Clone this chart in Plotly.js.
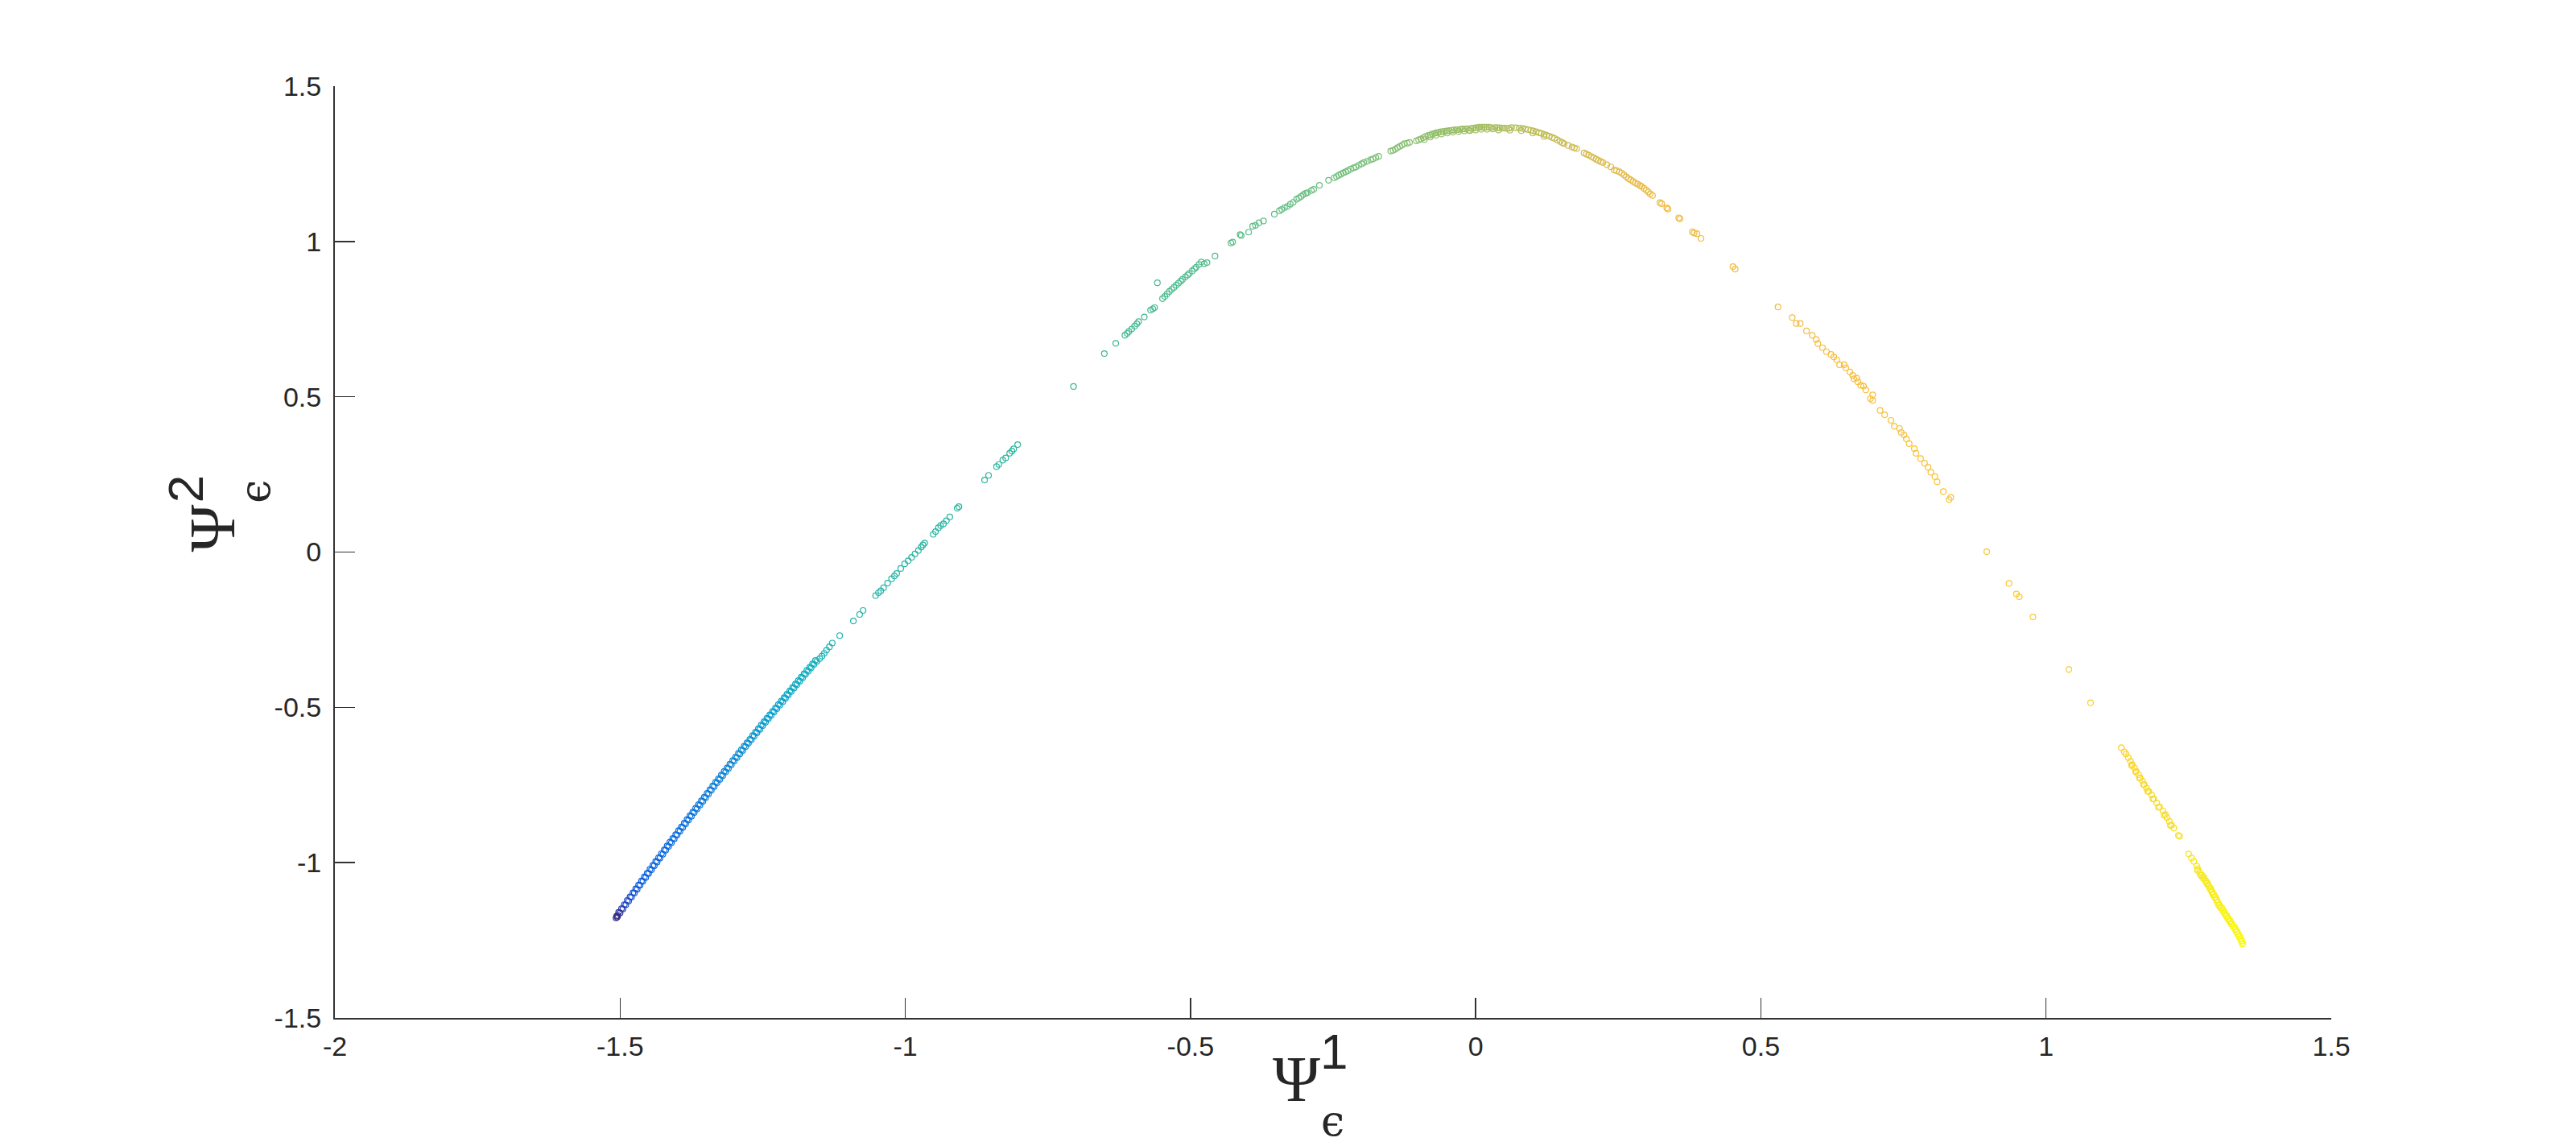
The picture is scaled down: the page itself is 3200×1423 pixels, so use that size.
<!DOCTYPE html>
<html>
<head>
<meta charset="utf-8">
<script src="https://cdn.plot.ly/plotly-3.0.1.min.js"></script>
<style>
  html, body { margin: 0; padding: 0; background: #fff; }
</style>
</head>
<body>
<div id="plot"></div>
<script>
// points, [psi1, psi2], in order along the curve
let leftBand = [
  [-1.507,-1.178],[-1.506,-1.172],[-1.504,-1.170],
  [-1.505,-1.175],[-1.500,-1.162],[-1.495,-1.149],[-1.490,-1.136],[-1.485,-1.124],[-1.480,-1.111],[-1.475,-1.098],[-1.470,-1.086],[-1.465,-1.073],[-1.460,-1.060],
  [-1.455,-1.048],[-1.450,-1.035],[-1.445,-1.023],[-1.440,-1.010],[-1.435,-0.998],[-1.430,-0.985],[-1.425,-0.973],[-1.420,-0.960],[-1.415,-0.948],[-1.410,-0.936],
  [-1.405,-0.924],[-1.400,-0.911],[-1.395,-0.899],[-1.390,-0.887],[-1.385,-0.875],[-1.380,-0.863],[-1.375,-0.851],[-1.370,-0.839],[-1.365,-0.827],[-1.360,-0.815],
  [-1.355,-0.803],[-1.350,-0.791],[-1.345,-0.779],[-1.340,-0.767],[-1.335,-0.755],[-1.330,-0.743],[-1.325,-0.732],[-1.320,-0.720],[-1.315,-0.708],[-1.310,-0.697],
  [-1.305,-0.685],[-1.300,-0.673],[-1.295,-0.662],[-1.290,-0.650],[-1.285,-0.639],[-1.280,-0.627],[-1.275,-0.616],[-1.270,-0.605],[-1.265,-0.593],[-1.260,-0.582],
  [-1.255,-0.571],[-1.250,-0.559],[-1.245,-0.548],[-1.240,-0.537],[-1.235,-0.526],[-1.230,-0.515],[-1.225,-0.504],[-1.220,-0.493],[-1.215,-0.482],[-1.210,-0.471],
  [-1.205,-0.460],[-1.200,-0.449],[-1.195,-0.438],[-1.190,-0.427],[-1.185,-0.416],[-1.180,-0.405],[-1.175,-0.394],[-1.170,-0.384],[-1.165,-0.373],[-1.160,-0.362],
  [-1.155,-0.352]
];
// upper edge of the same dense band
let leftBandEdge = [
  [-1.5025,-1.160],[-1.4975,-1.148],[-1.4925,-1.135],[-1.4875,-1.122],[-1.4825,-1.110],[-1.4775,-1.097],[-1.4725,-1.084],[-1.4675,-1.072],[-1.4625,-1.059],[-1.4575,-1.046],
  [-1.4525,-1.034],[-1.4475,-1.021],[-1.4425,-1.009],[-1.4375,-0.996],[-1.4325,-0.984],[-1.4275,-0.971],[-1.4225,-0.959],[-1.4175,-0.946],[-1.4125,-0.934],[-1.4075,-0.922],
  [-1.4025,-0.910],[-1.3975,-0.897],[-1.3925,-0.885],[-1.3875,-0.873],[-1.3825,-0.861],[-1.3775,-0.849],[-1.3725,-0.837],[-1.3675,-0.825],[-1.3625,-0.813],[-1.3575,-0.801],
  [-1.3525,-0.789],[-1.3475,-0.777],[-1.3425,-0.765],[-1.3375,-0.753],[-1.3325,-0.741],[-1.3275,-0.730],[-1.3225,-0.718],[-1.3175,-0.706],[-1.3125,-0.695],[-1.3075,-0.683],
  [-1.3025,-0.671],[-1.2975,-0.660],[-1.2925,-0.648],[-1.2875,-0.637],[-1.2825,-0.625],[-1.2775,-0.614],[-1.2725,-0.603],[-1.2675,-0.591],[-1.2625,-0.580],[-1.2575,-0.569],
  [-1.2525,-0.557],[-1.2475,-0.546],[-1.2425,-0.535],[-1.2375,-0.524],[-1.2325,-0.513],[-1.2275,-0.502],[-1.2225,-0.491],[-1.2175,-0.480],[-1.2125,-0.469],[-1.2075,-0.458],
  [-1.2025,-0.447],[-1.1975,-0.436],[-1.1925,-0.425],[-1.1875,-0.414],[-1.1825,-0.403],[-1.1775,-0.392],[-1.1725,-0.381],[-1.1675,-0.371],[-1.1625,-0.360],[-1.1575,-0.349]
];
let leftSparse = [
  [-1.150,-0.343],[-1.146,-0.335],[-1.142,-0.326],[-1.138,-0.316],[-1.133,-0.305],[-1.128,-0.293],[-1.115,-0.269],[-1.091,-0.222],[-1.080,-0.201],[-1.074,-0.188],
  [-1.052,-0.140],[-1.047,-0.131],[-1.043,-0.125],[-1.038,-0.115],[-1.031,-0.100],[-1.024,-0.086],[-1.019,-0.077],[-1.015,-0.069],[-1.008,-0.053],[-1.001,-0.038],
  [-0.995,-0.028],[-0.989,-0.017],[-0.983,-0.006],[-0.977,0.005],[-0.972,0.016],[-0.969,0.023],[-0.966,0.029],[-0.951,0.057],[-0.947,0.066],[-0.942,0.078],
  [-0.938,0.085],[-0.933,0.091],[-0.928,0.101],[-0.922,0.113],[-0.909,0.141],[-0.906,0.146],[-0.861,0.232],[-0.854,0.247],[-0.840,0.275],[-0.836,0.282],
  [-0.829,0.296],[-0.824,0.303],[-0.817,0.318],[-0.813,0.325],[-0.810,0.332],[-0.803,0.346],[-0.705,0.533],[-0.651,0.639]
];
let upperLeft = [
  [-0.631,0.672],[-0.615,0.698],[-0.611,0.704],[-0.608,0.710],[-0.603,0.718],[-0.598,0.727],[-0.594,0.735],[-0.591,0.742],[-0.581,0.757],[-0.570,0.779],
  [-0.566,0.783],[-0.563,0.787],[-0.558,0.867],[-0.549,0.816],[-0.545,0.823],[-0.541,0.831],[-0.537,0.839],[-0.533,0.846],[-0.529,0.852],[-0.525,0.859],
  [-0.521,0.866],[-0.517,0.872],[-0.514,0.878],[-0.509,0.886],[-0.505,0.892],[-0.502,0.897],[-0.497,0.905],[-0.493,0.912],[-0.490,0.917],[-0.485,0.926],
  [-0.481,0.934],[-0.476,0.928],[-0.471,0.932],[-0.457,0.953],[-0.429,0.995],[-0.426,0.998],[-0.413,1.022],[-0.411,1.019],[-0.398,1.030],[-0.391,1.049],
  [-0.386,1.052],[-0.380,1.060],[-0.372,1.066],[-0.353,1.088],[-0.344,1.099],[-0.340,1.103],[-0.335,1.109],[-0.330,1.113],[-0.325,1.120],[-0.320,1.126],
  [-0.314,1.136],[-0.310,1.140],[-0.306,1.145],[-0.302,1.151],[-0.298,1.155],[-0.295,1.157],[-0.288,1.164],[-0.284,1.168],[-0.274,1.181],[-0.258,1.197],
  [-0.248,1.205],[-0.244,1.209],[-0.240,1.213],[-0.236,1.217],[-0.232,1.221],[-0.228,1.224],[-0.224,1.228],[-0.219,1.233],[-0.214,1.237],[-0.210,1.240],
  [-0.205,1.245],[-0.200,1.250],[-0.196,1.254],[-0.190,1.258],[-0.184,1.263],[-0.180,1.266],[-0.175,1.270],[-0.170,1.274],[-0.149,1.291],[-0.145,1.293],
  [-0.141,1.297],[-0.137,1.302],[-0.133,1.306],[-0.129,1.310],[-0.125,1.315],[-0.120,1.316],[-0.116,1.319],[-0.104,1.324]
];
let peak = [
  [-0.100,1.327],[-0.096,1.330],[-0.092,1.334],[-0.088,1.338],[-0.084,1.341],[-0.080,1.343],[-0.076,1.346],[-0.072,1.348],[-0.069,1.350],[-0.065,1.351],
  [-0.061,1.353],[-0.057,1.354],[-0.053,1.355],[-0.050,1.356],[-0.046,1.357],[-0.042,1.358],[-0.038,1.359],[-0.034,1.360],[-0.031,1.360],[-0.027,1.361],
  [-0.023,1.362],[-0.019,1.362],[-0.015,1.363],[-0.012,1.358],[-0.008,1.364],[-0.004,1.365],[0.000,1.366],[0.004,1.367],[0.007,1.368],[0.011,1.368],
  [0.015,1.368],[0.019,1.368],[0.023,1.368],[0.027,1.367],[0.030,1.362],[0.034,1.367],[0.038,1.366],[0.042,1.366],[0.046,1.365],[0.050,1.365],
  [0.054,1.364],[0.058,1.364],[0.063,1.367],[0.070,1.366],[0.076,1.365],[0.082,1.364],[0.087,1.362],[0.092,1.360],[0.097,1.358],[0.101,1.356],
  [0.106,1.353],[0.111,1.350],[0.115,1.348],[0.120,1.345],[0.124,1.342],[0.129,1.339],[0.134,1.335],[0.138,1.332],[0.143,1.327],[0.148,1.322],
  [0.152,1.318],[0.155,1.315]
];
// lower edge of the band round the top
let peakEdge = [
  [-0.090,1.328],[-0.080,1.336],[-0.070,1.342],[-0.060,1.346],[-0.050,1.349],[-0.040,1.352],[-0.030,1.354],[-0.020,1.356],[-0.010,1.357],[0.000,1.359],
  [0.010,1.361],[0.020,1.361],[0.040,1.359],[0.060,1.358],[0.080,1.357],[0.100,1.349],[0.120,1.338]
];
let rightUpper = [
  [0.162,1.309],[0.169,1.304],[0.173,1.301],[0.177,1.299],[0.190,1.285],[0.194,1.281],[0.198,1.278],[0.203,1.273],[0.207,1.269],[0.211,1.265],
  [0.215,1.261],[0.219,1.257],[0.223,1.254],[0.230,1.247],[0.237,1.240],[0.243,1.230],[0.247,1.228],[0.252,1.224],[0.256,1.220],[0.260,1.214],
  [0.264,1.208],[0.268,1.202],[0.272,1.198],[0.276,1.193],[0.280,1.188],[0.284,1.185],[0.288,1.180],[0.291,1.177],[0.295,1.171],[0.299,1.165],
  [0.303,1.159],[0.306,1.153],[0.310,1.148],[0.323,1.125],[0.326,1.122],[0.335,1.108],[0.337,1.104],[0.356,1.076],[0.358,1.073],[0.380,1.031],
  [0.383,1.027],[0.388,1.025],[0.395,1.010],[0.451,0.919],[0.455,0.911],[0.530,0.789],[0.555,0.755],[0.562,0.736],[0.569,0.736]
];
let rightMid = [
  [0.580,0.712],[0.590,0.698],[0.597,0.684],[0.600,0.671],[0.608,0.658],[0.615,0.645],[0.623,0.636],[0.628,0.628],[0.633,0.619],[0.638,0.603],
  [0.646,0.603],[0.649,0.593],[0.656,0.580],[0.661,0.569],[0.663,0.558],[0.668,0.560],[0.670,0.548],[0.675,0.537],[0.680,0.534],[0.684,0.522],
  [0.696,0.506],[0.692,0.494],[0.696,0.488],[0.709,0.456],[0.717,0.442],[0.728,0.424],[0.734,0.405],[0.743,0.398],[0.746,0.385],[0.751,0.377],
  [0.755,0.364],[0.760,0.349],[0.769,0.333],[0.772,0.318],[0.780,0.301],[0.787,0.286],[0.793,0.273],[0.798,0.257],[0.805,0.243],[0.809,0.226],
  [0.820,0.195],[0.833,0.176],[0.830,0.169],[0.896,0.001],[0.935,-0.101],[0.948,-0.135],[0.953,-0.144],[0.977,-0.209],[1.040,-0.378],[1.078,-0.485]
];
let rightBand = [
  [1.132,-0.630],[1.137,-0.643],[1.140,-0.650],[1.144,-0.662],[1.148,-0.674],[1.151,-0.684],[1.155,-0.695],[1.158,-0.706],[1.162,-0.717],[1.165,-0.727],
  [1.169,-0.737],[1.172,-0.748],[1.176,-0.760],[1.180,-0.771],[1.185,-0.782],[1.189,-0.795],[1.194,-0.808],[1.199,-0.820],[1.205,-0.834],[1.209,-0.845],
  [1.212,-0.855],[1.216,-0.867],[1.220,-0.879],[1.224,-0.889],[1.232,-0.912],[1.234,-0.915],[1.250,-0.972],[1.255,-0.985],[1.259,-0.996],[1.264,-1.011],
  [1.266,-1.020],[1.269,-1.031],[1.273,-1.040],[1.277,-1.048],[1.280,-1.058],[1.283,-1.066],[1.286,-1.076],[1.289,-1.085],[1.291,-1.094],[1.294,-1.102],
  [1.297,-1.111],[1.299,-1.119],[1.301,-1.128],[1.304,-1.136],[1.308,-1.145],[1.311,-1.154],[1.314,-1.163],[1.317,-1.171],[1.320,-1.180],[1.323,-1.188],
  [1.326,-1.197],[1.330,-1.206],[1.332,-1.214],[1.335,-1.222],[1.337,-1.229],[1.339,-1.236],[1.341,-1.244],[1.343,-1.251],[1.345,-1.259]
];
// lower edge of the yellow band
let rightBandEdge = [
  [1.150,-0.688],[1.157,-0.708],[1.164,-0.728],[1.171,-0.749],[1.178,-0.770],[1.187,-0.795],[1.197,-0.822],[1.207,-0.848],[1.218,-0.880],
  [1.2655,-1.025],[1.2705,-1.040],[1.2745,-1.049],[1.2785,-1.057],[1.2815,-1.067],[1.2845,-1.075],[1.2875,-1.085],[1.2905,-1.094],[1.2925,-1.103],[1.2955,-1.111],
  [1.2985,-1.120],[1.3005,-1.128],[1.3025,-1.137],[1.3055,-1.145],[1.3095,-1.154],[1.3125,-1.163],[1.3155,-1.172],[1.3185,-1.180],[1.3215,-1.189],[1.3245,-1.197],
  [1.3275,-1.206],[1.3315,-1.215],[1.3335,-1.223],[1.3365,-1.231],[1.3385,-1.238],[1.3405,-1.245],[1.3425,-1.253],[1.344,-1.262]
];

let tickVals = [-2, -1.5, -1, -0.5, 0, 0.5, 1, 1.5];
let xTickText = ['-2', '-1.5', '-1', '-0.5', '0', '0.5', '1', '1.5'];
let yTickVals = [-1.5, -1, -0.5, 0, 0.5, 1, 1.5];
let yTickText = ['-1.5', '-1', '-0.5', '0', '0.5', '1', '1.5'];

let pts = [].concat(leftBand, leftBandEdge, leftSparse, upperLeft, peak, peakEdge, rightUpper, rightMid, rightBand, rightBandEdge);
let psi1 = pts.map(p => p[0]);
let psi2 = pts.map(p => p[1]);

// parula-like colours, stretched to match where they fall along the curve
let colours = [
  [0.000, 'rgb(53,42,135)'],
  [0.005, 'rgb(30,70,200)'],
  [0.015, 'rgb(10,95,225)'],
  [0.040, 'rgb(10,110,222)'],
  [0.070, 'rgb(15,135,212)'],
  [0.095, 'rgb(8,160,205)'],
  [0.115, 'rgb(15,175,190)'],
  [0.150, 'rgb(35,180,166)'],
  [0.247, 'rgb(45,182,155)'],
  [0.353, 'rgb(75,187,140)'],
  [0.456, 'rgb(115,190,120)'],
  [0.528, 'rgb(160,190,98)'],
  [0.580, 'rgb(200,187,80)'],
  [0.633, 'rgb(236,185,66)'],
  [0.739, 'rgb(245,188,60)'],
  [0.826, 'rgb(250,196,50)'],
  [0.925, 'rgb(250,210,40)'],
  [0.967, 'rgb(248,226,30)'],
  [1.000, 'rgb(249,250,14)']
];

let trace = {
  x: psi1,
  y: psi2,
  type: 'scatter',
  mode: 'markers',
  marker: {
    symbol: 'circle-open',
    size: 7,
    color: psi1,
    cmin: -1.505,
    cmax: 1.345,
    colorscale: colours,
    line: {width: 1.2}
  },
  hoverinfo: 'none'
};

let axisCommon = {
  showgrid: false,
  zeroline: false,
  showline: true,
  linecolor: '#333333',
  linewidth: 2,
  ticks: 'inside',
  ticklen: 25,
  tickwidth: 1.5,
  tickcolor: '#333333',
  tickfont: {family: 'Liberation Sans, Arial, sans-serif', size: 34, color: '#262626'},
  mirror: false
};

let labelFont = {family: 'Liberation Serif, DejaVu Serif, serif', size: 80, color: '#262626'};
let supFont = {family: 'Liberation Sans, Arial, sans-serif', size: 62, color: '#262626'};
let epsFont = {family: 'DejaVu Serif, serif', size: 52, color: '#262626'};

let layout = {
  width: 3200,
  height: 1423,
  margin: {l: 416, r: 304, t: 107, b: 159},
  paper_bgcolor: '#ffffff',
  plot_bgcolor: '#ffffff',
  showlegend: false,
  xaxis: Object.assign({}, axisCommon, {
    range: [-2, 1.5],
    tickvals: tickVals,
    ticktext: xTickText,
    ticklabelstandoff: 4
  }),
  yaxis: Object.assign({}, axisCommon, {
    range: [-1.5, 1.5],
    tickvals: yTickVals,
    ticktext: yTickText,
    ticklabelstandoff: 8
  }),
  annotations: [
    {text: 'Ψ', xref: 'paper', yref: 'paper', x: 0.4815, y: -0.0657, xanchor: 'center', yanchor: 'middle', showarrow: false, font: labelFont},
    {text: '1', xref: 'paper', yref: 'paper', x: 0.5004, y: -0.0363, xanchor: 'center', yanchor: 'middle', showarrow: false, font: supFont},
    {text: 'ϵ', xref: 'paper', yref: 'paper', x: 0.4996, y: -0.1106, xanchor: 'center', yanchor: 'middle', showarrow: false, font: epsFont},
    {text: 'Ψ', xref: 'paper', yref: 'paper', x: -0.0611, y: 0.5255, xanchor: 'center', yanchor: 'middle', textangle: -90, showarrow: false, font: labelFont},
    {text: '2', xref: 'paper', yref: 'paper', x: -0.0748, y: 0.568, xanchor: 'center', yanchor: 'middle', textangle: -90, showarrow: false, font: supFont},
    {text: 'ϵ', xref: 'paper', yref: 'paper', x: -0.0397, y: 0.565, xanchor: 'center', yanchor: 'middle', textangle: -90, showarrow: false, font: epsFont}
  ]
};

Plotly.newPlot('plot', [trace], layout, {displayModeBar: false, staticPlot: true});
</script>
</body>
</html>
